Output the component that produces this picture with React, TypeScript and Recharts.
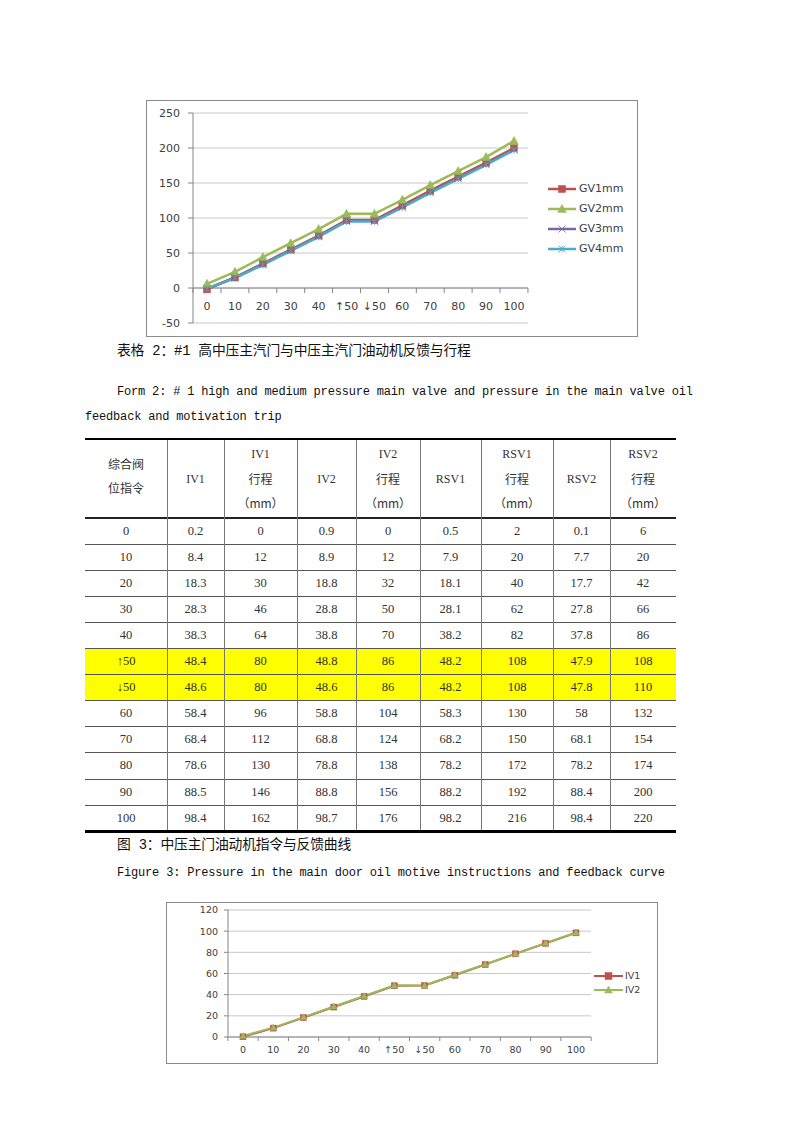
import React from 'react';
import { LineChart, Line, XAxis, YAxis, CartesianGrid, ReferenceLine } from 'recharts';

// ---------- data ----------
const categories = ['0', '10', '20', '30', '40', '↑50', '↓50', '60', '70', '80', '90', '100'];
const gv1 = [-2, 15, 35, 55, 75, 97, 97, 118, 139, 159, 179, 200];
const gv2 = [6, 23, 44, 64, 84, 106, 106, 126, 147, 167, 187, 210];
const gv3 = [-1, 15, 34, 54, 74, 96, 96, 116, 137, 157, 177, 198];
const gv4 = [-1, 14, 33, 53, 73, 95, 95, 115, 136, 156, 176, 197];
const gvTicks = [-50, 0, 50, 100, 150, 200, 250];

const iv1 = [0.2, 8.4, 18.3, 28.3, 38.3, 48.4, 48.6, 58.4, 68.4, 78.6, 88.5, 98.4];
const iv1Stroke = [0, 12, 30, 46, 64, 80, 80, 96, 112, 130, 146, 162];
const iv2 = [0.9, 8.9, 18.8, 28.8, 38.8, 48.8, 48.6, 58.8, 68.8, 78.8, 88.8, 98.7];
const iv2Stroke = [0, 12, 32, 50, 70, 86, 86, 104, 124, 138, 156, 176];
const rsv1 = [0.5, 7.9, 18.1, 28.1, 38.2, 48.2, 48.2, 58.3, 68.2, 78.2, 88.2, 98.2];
const rsv1Stroke = [2, 20, 40, 62, 82, 108, 108, 130, 150, 172, 192, 216];
const rsv2 = [0.1, 7.7, 17.7, 27.8, 37.8, 47.9, 47.8, 58, 68.1, 78.2, 88.4, 98.4];
const rsv2Stroke = [6, 20, 42, 66, 86, 108, 110, 132, 154, 174, 200, 220];
const ivTicks = [0, 20, 40, 60, 80, 100, 120];

const highlightRows = ['↑50', '↓50'];

// ---------- styles ----------
const F_CJK = '"Noto Sans CJK SC", sans-serif';
const F_MONO = '"Liberation Mono", "Noto Sans CJK SC", monospace';
const F_SERIF = '"Liberation Serif", "Noto Sans CJK SC", serif';
const F_CHART = '"DejaVu Sans", sans-serif';

const RED = '#C0504D';
const GREEN = '#9BBB59';
const PURPLE = '#8064A2';
const CYAN = '#4BACC6';
const AXIS = '#868686';
const GRID = '#c8c8c8';
const LABEL = '#404040';

// ---------- markers ----------
function marker(kind: string, color: string, size: number, cx: number, cy: number) {
  const h = size / 2;
  if (kind === 'square') {
    return <rect x={cx - h} y={cy - h} width={size} height={size} fill={color} stroke={color} strokeWidth={0.5} />;
  }
  if (kind === 'triangle') {
    return (
      <polygon
        points={`${cx},${cy - h * 1.15} ${cx - h * 1.1},${cy + h * 0.85} ${cx + h * 1.1},${cy + h * 0.85}`}
        fill={color}
        stroke={color}
        strokeWidth={0.5}
      />
    );
  }
  if (kind === 'x') {
    return (
      <g stroke={color} strokeWidth={1} opacity={0.8}>
        <line x1={cx - h} y1={cy - h} x2={cx + h} y2={cy + h} />
        <line x1={cx - h} y1={cy + h} x2={cx + h} y2={cy - h} />
      </g>
    );
  }
  return (
    <g stroke={color} strokeWidth={1} opacity={0.8}>
      <line x1={cx - h} y1={cy - h} x2={cx + h} y2={cy + h} />
      <line x1={cx - h} y1={cy + h} x2={cx + h} y2={cy - h} />
      <line x1={cx} y1={cy - h} x2={cx} y2={cy + h} />
    </g>
  );
}

function dotFn(kind: string, color: string, size: number) {
  return (props: any) => {
    const { cx, cy, index } = props;
    if (cx == null || cy == null) return <g key={`e${index}`} />;
    return <g key={`d${index}`}>{marker(kind, color, size, cx, cy)}</g>;
  };
}

// ---------- chart 1 layout ----------
const C1_W = 490;
const C1_H = 235;
const C1_M = { top: 12, right: 109, bottom: 0, left: 6 };
const C1_YW = 40;
const C1_XH = 13;
const C1_PAD = 14;
const C1_PLOT_W = C1_W - C1_M.left - C1_YW - C1_M.right;
const C1_PLOT_H = C1_H - C1_M.top - C1_M.bottom - C1_XH;
const C1_MIN = gvTicks[0];
const C1_MAX = gvTicks[gvTicks.length - 1];
const C1_HALF = (C1_PLOT_W - 2 * C1_PAD) / (categories.length - 1) / 2;

const gvData = categories.map((c, i) => ({ cat: c, gv1: gv1[i], gv2: gv2[i], gv3: gv3[i], gv4: gv4[i] }));

const gvSeries = [
  { key: 'gv1', name: 'GV1mm', color: RED, kind: 'square', size: 7 },
  { key: 'gv2', name: 'GV2mm', color: GREEN, kind: 'triangle', size: 8 },
  { key: 'gv3', name: 'GV3mm', color: PURPLE, kind: 'x', size: 7 },
  { key: 'gv4', name: 'GV4mm', color: CYAN, kind: 'star', size: 7 },
];

function GvTick(props: any) {
  const { x, y, payload, index } = props;
  // the category axis crosses the value axis at 0
  const zeroY = y - (C1_PLOT_H * (0 - C1_MIN)) / (C1_MAX - C1_MIN);
  const last = index === categories.length - 1;
  return (
    <g>
      <line x1={x - C1_HALF} y1={zeroY} x2={x - C1_HALF} y2={zeroY + 5} stroke={AXIS} />
      {last && <line x1={x + C1_HALF} y1={zeroY} x2={x + C1_HALF} y2={zeroY + 5} stroke={AXIS} />}
      <text x={x} y={zeroY + 18} textAnchor="middle" dominantBaseline="central" fontSize={11} fill={LABEL} fontFamily={F_CHART}>
        {payload.value}
      </text>
    </g>
  );
}

function Chart1() {
  return (
    <div
      style={{
        position: 'absolute',
        left: 146,
        top: 100,
        width: C1_W + 2,
        height: C1_H + 2,
        border: '1px solid #8c8c8c',
        boxSizing: 'border-box',
        background: '#fff',
      }}
    >
      <LineChart width={C1_W} height={C1_H} data={gvData} margin={C1_M}>
        <CartesianGrid vertical={false} stroke={GRID} />
        <XAxis
          dataKey="cat"
          height={C1_XH}
          padding={{ left: C1_PAD, right: C1_PAD }}
          axisLine={false}
          tickLine={false}
          tickSize={0}
          tickMargin={0}
          interval={0}
          tick={<GvTick />}
        />
        <YAxis
          width={C1_YW}
          domain={[C1_MIN, C1_MAX]}
          ticks={gvTicks}
          interval={0}
          axisLine={{ stroke: AXIS }}
          tickLine={{ stroke: AXIS }}
          tickSize={5}
          tickMargin={8}
          tick={{ fontSize: 11, fill: LABEL, fontFamily: F_CHART }}
        />
        <ReferenceLine y={0} stroke={AXIS} />
        {gvSeries.map((s) => (
          <Line
            key={s.key}
            dataKey={s.key}
            name={s.name}
            stroke={s.color}
            strokeWidth={2.5}
            dot={dotFn(s.kind, s.color, s.size)}
            activeDot={false}
            isAnimationActive={false}
          />
        ))}
      </LineChart>
      <div style={{ position: 'absolute', left: 401, top: 78, width: 90 }}>
        {gvSeries.map((s) => (
          <div key={s.key} style={{ height: 20, display: 'flex', alignItems: 'center' }}>
            <svg width={28} height={12} style={{ display: 'block' }}>
              <line x1={0} y1={6} x2={28} y2={6} stroke={s.color} strokeWidth={2.5} />
              {marker(s.kind, s.color, s.size, 14, 6)}
            </svg>
            <span style={{ marginLeft: 3, fontSize: 11, fontFamily: F_CHART, color: LABEL, lineHeight: '12px' }}>{s.name}</span>
          </div>
        ))}
      </div>
    </div>
  );
}

// ---------- chart 2 layout ----------
const C2_W = 490;
const C2_H = 160;
const C2_M = { top: 7, right: 66, bottom: 0, left: 6 };
const C2_YW = 55;
const C2_XH = 26;
const C2_PAD = 15;
const C2_PLOT_W = C2_W - C2_M.left - C2_YW - C2_M.right;
const C2_HALF = (C2_PLOT_W - 2 * C2_PAD) / (categories.length - 1) / 2;

const ivData = categories.map((c, i) => ({ cat: c, iv1: iv1[i], iv2: iv2[i] }));

const ivSeries = [
  { key: 'iv1', name: 'IV1', color: RED, kind: 'square', size: 6 },
  { key: 'iv2', name: 'IV2', color: GREEN, kind: 'triangle', size: 6 },
];

function IvTick(props: any) {
  const { x, y, payload, index } = props;
  const last = index === categories.length - 1;
  return (
    <g>
      <line x1={x - C2_HALF} y1={y} x2={x - C2_HALF} y2={y + 4} stroke={AXIS} />
      {last && <line x1={x + C2_HALF} y1={y} x2={x + C2_HALF} y2={y + 4} stroke={AXIS} />}
      <text x={x} y={y + 12} textAnchor="middle" dominantBaseline="central" fontSize={9.5} fill={LABEL} fontFamily={F_CHART}>
        {payload.value}
      </text>
    </g>
  );
}

function Chart2() {
  return (
    <div
      style={{
        position: 'absolute',
        left: 166,
        top: 902,
        width: C2_W + 2,
        height: C2_H + 2,
        border: '1px solid #8c8c8c',
        boxSizing: 'border-box',
        background: '#fff',
      }}
    >
      <LineChart width={C2_W} height={C2_H} data={ivData} margin={C2_M}>
        <CartesianGrid vertical={false} stroke={GRID} />
        <XAxis
          dataKey="cat"
          height={C2_XH}
          padding={{ left: C2_PAD, right: C2_PAD }}
          axisLine={{ stroke: AXIS }}
          tickLine={false}
          tickSize={0}
          tickMargin={0}
          interval={0}
          tick={<IvTick />}
        />
        <YAxis
          width={C2_YW}
          domain={[ivTicks[0], ivTicks[ivTicks.length - 1]]}
          ticks={ivTicks}
          interval={0}
          axisLine={{ stroke: AXIS }}
          tickLine={{ stroke: AXIS }}
          tickSize={4}
          tickMargin={6}
          tick={{ fontSize: 9.5, fill: LABEL, fontFamily: F_CHART }}
        />
        {ivSeries.map((s) => (
          <Line
            key={s.key}
            dataKey={s.key}
            name={s.name}
            stroke={s.color}
            strokeWidth={2}
            dot={dotFn(s.kind, s.color, s.size)}
            activeDot={false}
            isAnimationActive={false}
          />
        ))}
      </LineChart>
      <div style={{ position: 'absolute', left: 427, top: 66, width: 60 }}>
        {ivSeries.map((s) => (
          <div key={s.key} style={{ height: 14, display: 'flex', alignItems: 'center' }}>
            <svg width={29} height={10} style={{ display: 'block' }}>
              <line x1={0} y1={5} x2={29} y2={5} stroke={s.color} strokeWidth={2} />
              {marker(s.kind, s.color, s.size + 1, 14.5, 5)}
            </svg>
            <span style={{ marginLeft: 2, fontSize: 9.5, fontFamily: F_CHART, color: LABEL, lineHeight: '10px' }}>{s.name}</span>
          </div>
        ))}
      </div>
    </div>
  );
}

// ---------- table ----------
const colWidths = [82, 57, 73, 59, 64, 61, 72, 57, 66];
const headers: string[][] = [
  ['综合阀', '位指令'],
  ['IV1'],
  ['IV1', '行程', '（mm）'],
  ['IV2'],
  ['IV2', '行程', '（mm）'],
  ['RSV1'],
  ['RSV1', '行程', '（mm）'],
  ['RSV2'],
  ['RSV2', '行程', '（mm）'],
];
const TABLE_LEFT = 85;
const TABLE_TOP = 438;
const HEADER_BOTTOM = 518;
const ROW_H = 26.1;

function DataTable() {
  const lefts: number[] = [];
  let acc = 0;
  colWidths.forEach((w) => {
    lefts.push(acc);
    acc += w;
  });
  const total = acc;
  const columns = [categories, iv1, iv1Stroke, iv2, iv2Stroke, rsv1, rsv1Stroke, rsv2, rsv2Stroke];
  const bodyTop = HEADER_BOTTOM - TABLE_TOP;
  const bottom = bodyTop + ROW_H * categories.length;
  return (
    <div style={{ position: 'absolute', left: TABLE_LEFT, top: TABLE_TOP, width: total, height: bottom + 3 }}>
      {categories.map((c, r) =>
        highlightRows.includes(c) ? (
          <div
            key={`hl${r}`}
            style={{ position: 'absolute', left: 0, top: bodyTop + r * ROW_H, width: total, height: ROW_H, background: '#FFFF00' }}
          />
        ) : null
      )}
      {headers.map((lines, ci) => (
        <div
          key={`h${ci}`}
          style={{
            position: 'absolute',
            left: lefts[ci],
            top: 2,
            width: colWidths[ci],
            height: bodyTop - 2,
            display: 'flex',
            flexDirection: 'column',
            justifyContent: 'center',
            alignItems: 'center',
            paddingBottom: lines.length === 2 ? 6 : 0,
            boxSizing: 'border-box',
          }}
        >
          {lines.map((t, k) => (
            <div
              key={k}
              style={{
                fontSize: 12,
                lineHeight: '24.5px',
                fontFamily: /[\u4e00-\u9fff（]/.test(t) ? F_CJK : F_SERIF,
                color: '#333',
                whiteSpace: 'nowrap',
              }}
            >
              {t}
            </div>
          ))}
        </div>
      ))}
      {categories.map((_, r) =>
        columns.map((col, ci) => (
          <div
            key={`c${r}-${ci}`}
            style={{
              position: 'absolute',
              left: lefts[ci],
              top: bodyTop + r * ROW_H,
              width: colWidths[ci],
              height: ROW_H,
              display: 'flex',
              alignItems: 'center',
              justifyContent: 'center',
              fontSize: 12.5,
              fontFamily: F_SERIF,
              color: '#333',
            }}
          >
            {String(col[r])}
          </div>
        ))
      )}
      <div style={{ position: 'absolute', left: 0, top: 0, width: total, height: 2, background: '#000' }} />
      <div style={{ position: 'absolute', left: 0, top: bodyTop - 1, width: total, height: 1.5, background: '#222' }} />
      {categories.slice(0, -1).map((_, r) => (
        <div
          key={`rl${r}`}
          style={{ position: 'absolute', left: 0, top: bodyTop + (r + 1) * ROW_H - 0.5, width: total, height: 1, background: '#555' }}
        />
      ))}
      <div style={{ position: 'absolute', left: 0, top: bottom - 1, width: total, height: 3, background: '#000' }} />
      {lefts.slice(1).map((l, i) => (
        <div key={`vl${i}`} style={{ position: 'absolute', left: l - 0.5, top: 2, width: 1, height: bottom - 3, background: '#777' }} />
      ))}
    </div>
  );
}

function TextLine({ x, y, text, font, size }: { x: number; y: number; text: string; font: string; size: number }) {
  return (
    <div
      style={{
        position: 'absolute',
        left: x,
        top: y - 10,
        height: 20,
        lineHeight: '20px',
        fontSize: size,
        fontFamily: font,
        color: '#111',
        whiteSpace: 'pre',
        letterSpacing: font === F_MONO ? '-0.18px' : undefined,
      }}
    >
      {text}
    </div>
  );
}

export default function App() {
  return (
    <div style={{ position: 'absolute', left: 0, top: 0, width: 800, height: 1132, background: '#fff', overflow: 'hidden' }}>
      <Chart1 />
      <TextLine x={117} y={352} size={13.8} font={F_MONO} text="表格 2：#1 高中压主汽门与中压主汽门油动机反馈与行程" />
      <TextLine
        x={117}
        y={392}
        size={12}
        font={F_MONO}
        text="Form 2: # 1 high and medium pressure main valve and pressure in the main valve oil"
      />
      <TextLine x={85} y={417} size={12} font={F_MONO} text="feedback and motivation trip" />
      <DataTable />
      <TextLine x={117} y={846} size={13.8} font={F_MONO} text="图 3：中压主门油动机指令与反馈曲线" />
      <TextLine
        x={117}
        y={873}
        size={12}
        font={F_MONO}
        text="Figure 3: Pressure in the main door oil motive instructions and feedback curve"
      />
      <Chart2 />
    </div>
  );
}
